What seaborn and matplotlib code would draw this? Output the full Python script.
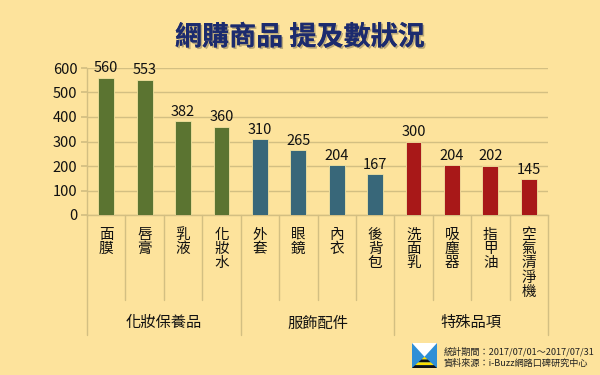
import matplotlib
matplotlib.use("Agg")
import matplotlib.pyplot as plt
import matplotlib.patheffects as pe
from matplotlib.patches import Polygon, Rectangle
import seaborn as sns
import pandas as pd

categories = ["面膜", "唇膏", "乳液", "化妝水", "外套", "眼鏡", "內衣", "後背包",
              "洗面乳", "吸塵器", "指甲油", "空氣清淨機"]
values = [560, 553, 382, 360, 310, 265, 204, 167, 300, 204, 202, 145]
groups = ["化妝保養品"] * 4 + ["服飾配件"] * 4 + ["特殊品項"] * 4
group_names = ["化妝保養品", "服飾配件", "特殊品項"]
group_colors = ["#5E7F26", "#2D6C84", "#C00000"]
yticks = [0, 100, 200, 300, 400, 500, 600]
title = "網購商品 提及數狀況"
notes = ["統計期間：2017/07/01～2017/07/31", "資料來源：i-Buzz網路口碑研究中心"]

BG = "#FDE39C"
GRID = "#D3BF82"
sns.set_theme(style="white")
plt.rcParams["font.family"] = ["Noto Sans CJK TC", "DejaVu Sans"]

df = pd.DataFrame({"cat": categories, "val": values, "grp": groups})

W, H = 600, 375
fig = plt.figure(figsize=(6, 3.75), dpi=100, facecolor=BG)
x0, x1, y0, y1 = 87, 548, 215, 68
ax = fig.add_axes([x0 / W, 1 - y0 / H, (x1 - x0) / W, (y0 - y1) / H])
ax.set_facecolor(BG)

sns.barplot(data=df, x="cat", y="val", hue="grp", hue_order=group_names,
            palette=group_colors, dodge=False, width=0.41, ax=ax, legend=False,
            edgecolor="#F3E3A0", linewidth=0.6, zorder=3)

ax.set_ylim(0, 600)
ax.set_xlim(-0.5, len(categories) - 0.5)
ax.set_yticks(yticks)
ax.set_yticklabels([str(v) for v in yticks], fontsize=10.5, color="#111111")
ax.yaxis.grid(True, color=GRID, linewidth=1, zorder=0)
ax.tick_params(axis="y", length=4, color=GRID, pad=3, left=True)
ax.set_xticks([])
ax.set_xlabel("")
ax.set_ylabel("")
for s in ["top", "right"]:
    ax.spines[s].set_visible(False)
for s in ["left", "bottom"]:
    ax.spines[s].set_color(GRID)
    ax.spines[s].set_linewidth(1)

for i, v in enumerate(values):
    ax.text(i, v + 10, str(v), ha="center", va="bottom", fontsize=10.5, color="#111111")

trans = ax.get_xaxis_transform()


def ypix(p):
    return (y0 - p) / (y0 - y1)


# category labels (vertical stacked, one char per line)
for i, c in enumerate(categories):
    for j, ch in enumerate(c):
        ax.text(i, ypix(234.5 + j * 14.4), ch, transform=trans, ha="center", va="center",
                fontsize=10.5, color="#111111", clip_on=False)

# separators
for k in range(len(categories) + 1):
    xpos = k - 0.5
    bottom = 335 if k % 4 == 0 else 300
    ax.plot([xpos, xpos], [0, ypix(bottom)], transform=trans, color=GRID,
            linewidth=1, clip_on=False)

for gi, g in enumerate(group_names):
    ax.text(gi * 4 + 1.5, ypix(323), g, transform=trans, ha="center", va="center",
            fontsize=11, color="#111111", clip_on=False)

fig.text(0.5, 1 - 37 / H, title, ha="center", va="center", fontsize=19.5,
         fontweight="bold", color="#1C2B6E",
         path_effects=[pe.withSimplePatchShadow(offset=(1.2, -1.2), shadow_rgbFace="#8C8060", alpha=0.6), pe.Normal()])

# logo


def fp(x, y):
    return (x / W, 1 - y / H)


lx, ly, lw, lh = 412, 343, 25, 25
fig.patches.append(Rectangle(fp(lx, ly + lh), lw / W, lh / H, transform=fig.transFigure,
                             facecolor="#2E8FD6", edgecolor="none"))
fig.patches.append(Polygon([fp(lx, ly), fp(lx + lw, ly), fp(lx + lw / 2, ly + lh * 0.55)],
                           closed=True, transform=fig.transFigure, facecolor="white", edgecolor="none"))
for j, col in enumerate(["#FFE000", "#111111", "#FFE000", "#111111"]):
    t0 = 0.55 + j * 0.1125
    t1 = t0 + 0.1125
    hw0 = (t0 - 0.55) / 0.45 * lw / 2
    hw1 = (t1 - 0.55) / 0.45 * lw / 2
    cx = lx + lw / 2
    fig.patches.append(Polygon([fp(cx - hw0, ly + lh * t0), fp(cx + hw0, ly + lh * t0),
                                fp(cx + hw1, ly + lh * t1), fp(cx - hw1, ly + lh * t1)],
                               closed=True, transform=fig.transFigure, facecolor=col, edgecolor="none"))

fig.text(444 / W, 1 - 352 / H, notes[0], ha="left", va="center", fontsize=6.6, color="#222222")
fig.text(444 / W, 1 - 363.5 / H, notes[1], ha="left", va="center", fontsize=6.6, color="#222222")

fig.savefig("out.png", dpi=100, facecolor=BG)
